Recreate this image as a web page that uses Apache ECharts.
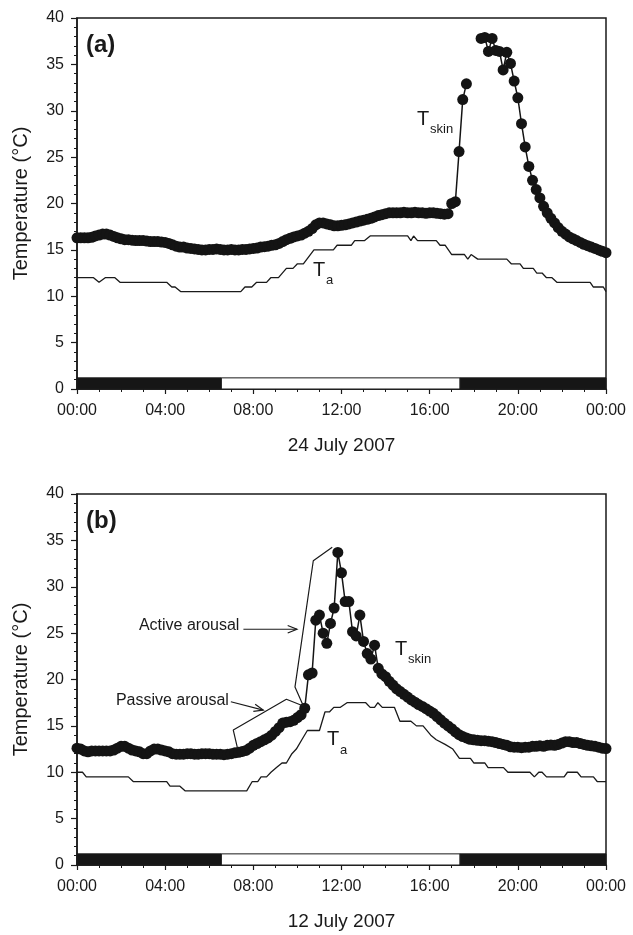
<!DOCTYPE html>
<html><head><meta charset="utf-8">
<script src="https://cdn.jsdelivr.net/npm/echarts@6/dist/echarts.min.js"></script>
<style>html,body{margin:0;padding:0;background:#fff}#c{width:633px;height:935px}</style>
</head><body><div id="c"></div>
<script>
// ---- DATA ----
const SAMPLE_STEP_H = 1 / 6; // Tskin logged every 10 min, from 00:00 to 24:00
const tskinA = [
16.3,16.3,16.3,16.3,16.35, 16.5,16.6,16.7,16.7,16.6,
16.45,16.3,16.2,16.1,16.1, 16.05,16.0,16.0,16.0,15.95,
15.9,15.9,15.9,15.85,15.8, 15.7,15.55,15.4,15.3,15.3,
15.2,15.15,15.1,15.05,15.0, 15.0,15.05,15.05,15.1,15.05,
15.0,15.0,15.05,15.0,15.0, 15.05,15.05,15.1,15.15,15.2,
15.3,15.35,15.4,15.5,15.55, 15.7,15.9,16.1,16.25,16.4,
16.5,16.6,16.8,17.0,17.3, 17.7,17.9,17.9,17.8,17.7,
17.6,17.6,17.65,17.7,17.8, 17.9,18.0,18.1,18.2,18.3,
18.4,18.55,18.7,18.8,18.9, 19.0,19.0,19.0,19.0,19.05,
19.0,19.0,19.05,19.0,19.0, 18.95,19.0,19.0,18.95,18.9,
18.85,18.9,20.0,20.2,25.6, 31.2,32.9,null,null,null,
37.8,37.9,36.4,37.8,36.5, 36.4,34.4,36.3,35.1,33.2,
31.4,28.6,26.1,24.0,22.5, 21.5,20.6,19.7,19.0,18.4,
17.9,17.4,17.0,16.7,16.4, 16.2,16.0,15.8,15.6,15.45,
15.3,15.15,15.0,14.85,14.7
];
const taA = [[0,12],[0.75,12],[1.0,11.5],[1.28,12],[1.72,12],[1.95,11.5],[4.07,11.5],[4.3,11],[4.45,11],[4.7,10.5],
[7.43,10.5],[7.62,11],[7.93,11],[8.15,11.5],[8.6,11.5],[8.79,12],[9.14,12],[9.5,13],[9.8,13],[10.0,13.5],[10.27,13.5],
[10.75,15],[11.63,15],[11.8,15.5],[12.45,15.5],[12.6,16],[13.05,16],[13.3,16.5],[15.0,16.5],[15.15,16.0],[15.27,16.5],
[15.45,16.0],[16.3,16.0],[16.47,15.5],[16.7,15.5],[16.85,15.0],[17.0,14.5],[17.58,14.5],[17.73,14.0],[17.88,14.5],
[18.18,14.0],[19.5,14.0],[19.7,13.5],[20.1,13.5],[20.25,13.0],[20.7,13.0],[20.86,12.5],[21.1,12.5],[21.3,12.0],
[21.55,12.0],[21.77,11.5],[23.28,11.5],[23.42,11.0],[23.88,11.0],[24,10.5]];

const tskinB = [
12.6,12.5,12.3,12.2,12.3, 12.3,12.3,12.3,12.3,12.3,
12.4,12.6,12.8,12.8,12.6, 12.4,12.3,12.2,12.0,12.0,
12.3,12.5,12.5,12.4,12.3, 12.2,12.0,11.95,11.95,11.95,
12.0,12.0,11.95,11.95,12.0, 12.0,12.0,11.95,11.95,11.95,
11.9,11.95,12.0,12.1,12.15, 12.25,12.35,12.6,12.9,13.1,
13.3,13.5,13.7,14.0,14.4, 14.8,15.3,15.4,15.45,15.6,
15.9,16.2,16.9,20.5,20.7, 26.4,26.95,25.0,23.9,26.05,
27.7,33.7,31.5,28.4,28.4, 25.15,24.7,26.95,24.1,22.8,
22.2,23.7,21.2,20.6,20.3, 19.8,19.4,19.0,18.7,18.4,
18.1,17.8,17.55,17.3,17.1, 16.85,16.6,16.35,16.0,15.65,
15.3,15.0,14.7,14.35,14.05, 13.85,13.7,13.55,13.5,13.45,
13.4,13.4,13.35,13.3,13.2, 13.1,13.0,12.9,12.75,12.7,
12.7,12.65,12.7,12.7,12.8, 12.8,12.85,12.8,12.9,12.95,
12.9,13.0,13.15,13.3,13.3, 13.2,13.2,13.1,13.0,12.9,
12.85,12.8,12.7,12.6,12.55
];
const taB = [[0,10],[0.25,10],[0.42,9.5],[2.33,9.5],[2.55,9],[4.07,9],[4.22,8.5],[4.67,8.5],[4.9,8],[7.7,8],
[7.95,9],[8.2,9],[8.35,9.5],[8.6,9.5],[8.8,10],[9.05,10.5],[9.3,11],[9.5,11],[9.75,12],[9.95,12.5],[10.2,13.5],
[10.45,14.5],[11.0,14.5],[11.25,16.5],[11.45,16.5],[11.65,17],[11.95,17],[12.25,17.5],[13.1,17.5],[13.3,17],
[13.5,17],[13.65,17.5],[13.85,17],[14.4,17],[14.65,15.5],[15.15,15.5],[15.4,15],[15.7,15],[16.05,14],[16.3,13.5],
[16.7,13],[17.05,12.5],[17.35,11.5],[17.85,11.5],[18.0,11],[18.5,11],[18.65,10.5],[19.35,10.5],[19.55,10],
[20.55,10],[20.75,9.5],[20.95,10],[21.1,10],[21.3,9.5],[22.1,9.5],[22.25,10],[22.7,10],[22.87,9.5],[23.43,9.5],
[23.6,9],[24,9]];

const lightPhase = [6.55, 17.38];   // lights-on period (hours)
const barTop = 1.2;                 // day/night bar height (°C units)
const passiveBracket = [[7.27,12.7],[7.09,14.55],[9.5,17.87],[10.27,17.15]];
const activeBracket = [[10.27,17.15],[9.89,19.2],[10.72,32.8],[11.58,34.25]];
const activeArrow = [[7.55,25.42],[9.98,25.42]];
const passiveArrow = [[6.98,17.6],[8.45,16.7]];
const xLabelDates = ['24 July 2007', '12 July 2007'];
const panelTags = ['(a)', '(b)'];

// ---- CHART ----
const FONT = 'Liberation Sans, Arial, Helvetica, sans-serif';
const INK = '#1a1a1a';
const toSeries = arr => arr.map((v, i) => [i * SAMPLE_STEP_H, v === null ? '-' : v]);
const fmtHour = v => String(Math.round(v) % 24).padStart(2, '0') + ':00';

const grids = [
  {left: 77, top: 18, width: 529, height: 371},
  {left: 77, top: 494, width: 529, height: 371}
];
const xAxes = [0, 1].map(g => ({
  type: 'value', gridIndex: g, min: 0, max: 24, interval: 4,
  name: xLabelDates[g], nameLocation: 'middle', nameGap: 47,
  nameTextStyle: {fontFamily: FONT, fontSize: 19, color: INK},
  axisLine: {show: true, lineStyle: {color: INK, width: 1.5}},
  axisTick: {show: true, length: 5, lineStyle: {color: INK, width: 1.2}},
  minorTick: {show: true, splitNumber: 4, length: 3, lineStyle: {color: INK, width: 1}},
  splitLine: {show: false}, minorSplitLine: {show: false},
  axisLabel: {formatter: fmtHour, fontFamily: FONT, fontSize: 16, color: INK, margin: 14}
}));
const yAxes = [0, 1].map(g => ({
  type: 'value', gridIndex: g, min: 0, max: 40, interval: 5,
  name: 'Temperature (°C)', nameLocation: 'middle', nameGap: 46,
  nameTextStyle: {fontFamily: FONT, fontSize: 20, color: INK},
  axisLine: {show: true, lineStyle: {color: INK, width: 1.5}},
  axisTick: {show: true, length: 6, lineStyle: {color: INK, width: 1.2}},
  minorTick: {show: true, splitNumber: 5, length: 3, lineStyle: {color: INK, width: 1}},
  splitLine: {show: false}, minorSplitLine: {show: false},
  axisLabel: {fontFamily: FONT, fontSize: 16, color: INK, margin: 13}
}));

function barAreas() {
  const dark = {color: '#161616', borderColor: INK, borderWidth: 1};
  const light = {color: '#ffffff', borderColor: INK, borderWidth: 1};
  return {
    silent: true,
    data: [
      [{xAxis: 0, yAxis: 0, itemStyle: dark}, {xAxis: lightPhase[0], yAxis: barTop}],
      [{xAxis: lightPhase[0], yAxis: 0, itemStyle: light}, {xAxis: lightPhase[1], yAxis: barTop}],
      [{xAxis: lightPhase[1], yAxis: 0, itemStyle: dark}, {xAxis: 24, yAxis: barTop}]
    ]
  };
}
function taSeries(g, data) {
  return {type: 'line', xAxisIndex: g, yAxisIndex: g, data: data, symbol: 'none', z: 2,
    lineStyle: {color: INK, width: 1.3}, markArea: barAreas(), animation: false};
}
function tskinSeries(g, arr) {
  return {type: 'line', xAxisIndex: g, yAxisIndex: g, data: toSeries(arr), z: 3,
    symbol: 'circle', symbolSize: 11, showAllSymbol: true, connectNulls: false,
    itemStyle: {color: '#141414'}, lineStyle: {color: '#141414', width: 1.5}, animation: false};
}
function bracket(data) {
  return {type: 'line', xAxisIndex: 1, yAxisIndex: 1, data: data, symbol: 'none', z: 4,
    lineStyle: {color: INK, width: 1.2}, animation: false};
}

const chart = echarts.init(document.getElementById('c'), null, {renderer: 'canvas'});
chart.setOption({
  backgroundColor: '#fff',
  animation: false,
  grid: grids.map(g => Object.assign({show: true, borderColor: INK, borderWidth: 1.5, backgroundColor: 'transparent'}, g)),
  xAxis: xAxes,
  yAxis: yAxes,
  series: [
    taSeries(0, taA), tskinSeries(0, tskinA),
    taSeries(1, taB), tskinSeries(1, tskinB),
    bracket(passiveBracket), bracket(activeBracket)
  ]
});

// ---- annotations placed through the axis scales ----
const px = (g, p) => chart.convertToPixel({gridIndex: g}, p);
const graphics = [];
function txt(x, y, s, size, opts) {
  graphics.push({type: 'text', x: x, y: y, z: 10, style: Object.assign({
    text: s, fontFamily: FONT, fontSize: size, fill: INK, textAlign: 'left', textVerticalAlign: 'middle'}, opts || {})});
}
function subLabel(g, anchor, main, sub) {
  const p = px(g, anchor);
  txt(p[0], p[1], main, 20);
  txt(p[0] + 13, p[1] + 10, sub, 13);
}
function arrow(g, pts) {
  const a = px(g, pts[0]), b = px(g, pts[1]);
  const ang = Math.atan2(b[1] - a[1], b[0] - a[0]);
  const L = 10, w = 0.38;
  const h1 = [b[0] - L * Math.cos(ang - w), b[1] - L * Math.sin(ang - w)];
  const h2 = [b[0] - L * Math.cos(ang + w), b[1] - L * Math.sin(ang + w)];
  graphics.push({type: 'polyline', z: 10, shape: {points: [a, b]}, style: {stroke: INK, lineWidth: 1.2, fill: null}});
  graphics.push({type: 'polyline', z: 10, shape: {points: [h1, b, h2]}, style: {stroke: INK, lineWidth: 1.2, fill: null}});
}
[0, 1].forEach(g => {
  const p = px(g, [0, 40]);
  txt(p[0] + 9, p[1] + 27, panelTags[g], 24, {fontWeight: 'bold'});
});
subLabel(0, [15.43, 29.1], 'T', 'skin');
subLabel(0, [10.71, 12.78], 'T', 'a');
subLabel(1, [14.43, 23.29], 'T', 'skin');
subLabel(1, [11.34, 13.48], 'T', 'a');
arrow(1, activeArrow);
arrow(1, passiveArrow);
(function () {
  const a = px(1, activeArrow[0]);
  txt(a[0] - 4, a[1] - 4, 'Active arousal', 16, {textAlign: 'right'});
  const b = px(1, passiveArrow[0]);
  txt(b[0] - 2, b[1] - 1, 'Passive arousal', 16, {textAlign: 'right'});
})();
chart.setOption({graphic: graphics});
</script>
</body></html>
